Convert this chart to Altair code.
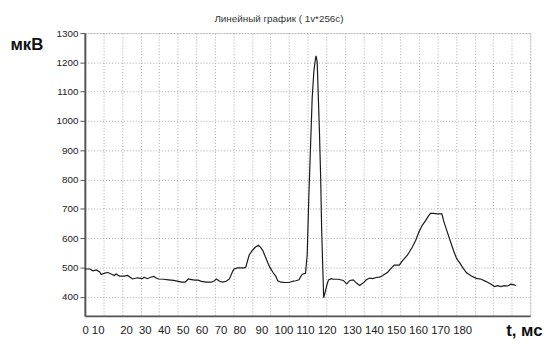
import altair as alt
import pandas as pd

# --- data (x in grid units: 24 grid cells of 10) ---
t_units = [0, 2.65, 4.4, 6.2, 8.0, 8.8, 10.6, 12.4, 14.2, 15.9, 16.8, 18.6, 21.2, 23.0, 24.8, 25.7,
           28.3, 31.0, 31.9, 33.6, 35.4, 37.2, 38.1, 39.8, 42.5, 45.1, 47.8, 50.4, 52.2, 54.0, 55.8,
           57.5, 59.3, 61.1, 62.8, 65.5, 68.1, 69.9, 70.8, 72.6, 74.3, 76.1, 77.9, 79.7, 80.5, 82.3,
           84.1, 85.9, 86.7, 88.5, 90.3, 92.0, 93.5, 94.7, 95.9, 97.7, 99.5, 101.3, 103.0, 103.9,
           105.7, 108.3, 110.1, 111.9, 113.6, 115.4, 116.3, 117.2, 118.9, 119.8, 120.7, 121.6, 122.5,
           123.4, 124.3, 124.6, 125.2, 125.7, 126.4, 127.1, 127.6, 128.1, 128.7, 129.6, 130.5, 131.3,
           132.8, 134.0, 136.6, 139.3, 141.1, 142.8, 144.6, 146.4, 148.1, 149.9, 151.7, 153.5, 155.2,
           157.0, 158.8, 160.5, 163.2, 165.0, 166.7, 169.4, 171.1, 173.8, 176.5, 178.3, 180.0, 181.8,
           183.6, 185.3, 186.2, 188.0, 189.7, 192.4, 193.3, 195.0, 196.8, 198.6, 200.3, 202.2, 203.9,
           205.7, 208.3, 211.0, 213.6, 216.3, 218.9, 220.7, 222.5, 224.2, 226.0, 227.8, 229.6, 231.3,
           232.2]
amplitude_uv = [495, 495, 489, 492, 485, 476, 481, 483, 478, 473, 478, 471, 471, 473, 465, 461,
                465, 462, 467, 462, 467, 470, 465, 461, 460, 458, 456, 453, 450, 450, 461,
                459, 457, 457, 453, 450, 450, 455, 461, 453, 450, 453, 461, 488, 495, 499,
                499, 499, 501, 542, 559, 570, 576, 569, 558, 530, 503, 484, 469, 455,
                450, 449, 449, 453, 455, 458, 469, 477, 480, 542, 743, 911, 1079,
                1169, 1214, 1222, 1202, 1102, 967, 799, 631, 520, 397, 419, 442, 458,
                462, 460, 460, 456, 444, 456, 458, 447, 439, 447, 458, 464, 462,
                466, 467, 473, 484, 497, 508, 508, 523, 542, 570, 593, 621, 644,
                660, 677, 685, 685, 683, 683, 660, 627, 593, 559, 531, 514, 497,
                482, 471, 463, 460, 452, 443, 435, 438, 435, 438, 437, 443, 441,
                438]

y_ticks = [400, 500, 600, 700, 800, 900, 1000, 1100, 1200, 1300]
x_grid = list(range(0, 241, 10))
x_tick_labels = ["0", "10", "20", "30", "40", "50", "60", "70", "80", "90",
                 "100", "110", "120", "130", "140", "150", "160", "170", "180"]
label_gaps = [1, 5, 2, 2, 2, 2, 2, 2, 3, 2, 1, 1, 2, 1, 1, 1, 1, 1]

chart_title = "Линейный график ( 1v*256c)"
y_title = "мкВ"
x_title = "t, мс"

NB = "\u00a0"
label_string = x_tick_labels[0]
for lab, g in zip(x_tick_labels[1:], label_gaps):
    label_string += NB * g + lab

FONT = "Liberation Sans"

df = pd.DataFrame({"t": t_units, "uv": amplitude_uv})
lab_df = pd.DataFrame({"s": [label_string]})
title_df = pd.DataFrame({"s": [chart_title]})

line = alt.Chart(df).mark_line(color="#1a1a1a", strokeWidth=1.2).encode(
    x=alt.X("t:Q",
            scale=alt.Scale(domain=[0, 240], nice=False, zero=False),
            axis=alt.Axis(values=x_grid, labels=False, ticks=False, grid=True,
                          gridColor="#a8a8a8", gridDash=[1, 2], gridWidth=1,
                          domainColor="#555555", domainWidth=2,
                          title=x_title, titleFont=FONT, titleFontSize=17,
                          titleFontWeight="bold", titleColor="#111111",
                          titleX=464, titleY=15, titleAlign="right",
                          titleBaseline="middle", titleAngle=0)),
    y=alt.Y("uv:Q",
            scale=alt.Scale(domain=[335, 1300], nice=False, zero=False),
            axis=alt.Axis(values=y_ticks, format="d", grid=True, gridColor="#a8a8a8",
                          gridDash=[1, 2], gridWidth=1,
                          domainColor="#555555", domainWidth=2,
                          tickColor="#555555", tickSize=5, labelPadding=2,
                          labelFont=FONT, labelFontSize=10, labelColor="#222222",
                          title=y_title, titleFont=FONT, titleFontSize=17,
                          titleFontWeight="bold", titleColor="#111111",
                          titleAngle=0, titleX=-76, titleY=12,
                          titleAlign="left", titleBaseline="middle")),
)

labels = alt.Chart(lab_df).mark_text(
    align="left", baseline="middle", font=FONT, fontSize=11.5, color="#222222"
).encode(text="s:N", x=alt.value(-2.5), y=alt.value(302))

title = alt.Chart(title_df).mark_text(
    align="center", baseline="middle", font=FONT, fontSize=10, color="#333333"
).encode(text="s:N", x=alt.value(197), y=alt.value(-14))

chart = alt.layer(line, labels, title).properties(
    width=452, height=287,
    autosize=alt.AutoSizeParams(type="none"),
    padding={"left": 78, "top": 23, "right": 16, "bottom": 22},
).configure_view(stroke="#666666", strokeWidth=1).configure(background="white")

chart.save("out.html", embed_options={"renderer": "svg", "actions": False})
